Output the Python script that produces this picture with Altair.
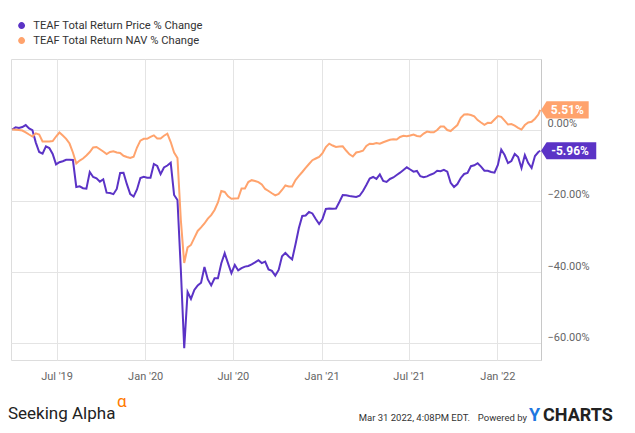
import altair as alt
import pandas as pd

dates = [d.strftime("%Y-%m-%d") for d in pd.date_range("2019-03-31", periods=157, freq="7D")] + ["2022-03-31"]

price = [
    0, 0.62, 0.42, 0.70, 1.26, 0.31, -0.20, -3.67, -6.31, -6.76,
    -4.71, -5.19, -6.84, -9.79, -9.17, -8.89, -8.50, -8.47, -8.56, -16.13,
    -15.96, -16.47, -16.61, -11.92, -13.32, -13.69, -14.64, -13.97, -17.73, -17.84,
    -18.15, -16.69, -12.20, -12.15, -15.34, -18.12, -18.82, -16.83, -13.60, -13.24,
    -13.52, -13.52, -9.68, -10.24, -12.54, -10.66, -10.10, -9.34, -18.37, -19.78,
    -39.41, -61.37, -45.58, -47.54, -45.02, -43.76, -43.00, -38.57, -42.08, -43.76,
    -41.74, -41.74, -37.53, -34.73, -37.59, -40.34, -38.01, -39.55, -38.91, -38.48,
    -38.29, -37.87, -37.31, -36.69, -37.50, -37.08, -39.27, -39.69, -41.01, -39.41,
    -35.60, -34.64, -35.62, -36.47, -32.23, -27.63, -24.26, -24.12, -23.14, -23.56,
    -25.10, -26.51, -25.10, -22.30, -22.16, -22.24, -22.16, -20.34, -18.37, -18.46,
    -18.65, -18.79, -18.93, -18.60, -17.25, -15.57, -13.74, -13.32, -13.88, -12.62,
    -14.45, -14.73, -13.88, -13.46, -12.76, -12.12, -11.36, -10.60, -11.22, -11.84,
    -11.64, -13.10, -13.38, -13.16, -12.68, -12.34, -11.58, -11.72, -11.30, -11.84,
    -14.95, -16.13, -15.29, -13.60, -12.48, -12.20, -10.29, -10.04, -9.45, -10.41,
    -11.56, -11.56, -11.92, -12.12, -9.93, -5.61, -7.15, -9.40, -8.84, -6.87,
    -7.71, -10.80, -7.15, -9.40, -10.80, -7.43, -6.31,
    -5.96,
]

nav = [
    0, -0.08, -0.14, -0.28, -0.79, -1.40, -1.96, -1.07, -1.40, -3.37,
    -3.39, -3.37, -3.23, -1.96, -0.84, -1.68, -2.61, -3.93, -6.45, -9.54,
    -8.70, -8.13, -7.29, -6.31, -5.05, -4.91, -5.53, -6.17, -6.87, -6.31,
    -6.09, -6.45, -6.59, -7.38, -7.71, -7.99, -7.66, -5.05, -3.11, -2.61,
    -2.61, -2.05, -1.63, -2.50, -2.52, -1.74, -1.18, -3.51, -6.45, -7.99,
    -25.39, -37.45, -33.10, -32.40, -30.43, -28.47, -27.49, -26.37, -25.02, -24.04,
    -22.58, -20.48, -17.25, -17.53, -18.74, -19.44, -19.35, -19.30, -16.55, -16.55,
    -14.73, -14.22, -14.45, -14.78, -15.43, -16.69, -17.25, -17.90, -18.51, -18.09,
    -16.97, -15.71, -15.99, -15.99, -14.17, -13.04, -11.92, -10.74, -9.68, -8.61,
    -8.13, -7.66, -6.65, -4.91, -3.96, -4.49, -4.91, -4.77, -4.71, -5.89,
    -6.96, -7.57, -6.45, -6.23, -5.95, -4.63, -3.98, -4.07, -3.79, -3.98,
    -3.56, -3.23, -2.89, -2.75, -2.81, -2.10, -1.77, -1.88, -1.68, -1.40,
    -1.82, -1.96, -1.12, -0.56, -0.79, -0.79, -0.14, 0.84, 0.84, -0.14,
    -0.42, 0.42, 1.26, 3.31, 4.21, 4.26, 4.07, 3.70, 2.66, 1.96,
    1.32, 1.88, 1.82, 2.81, 3.79, 3.56, 2.52, 1.40, 1.54, 1.07,
    0.48, 0.00, 1.26, 1.96, 2.16, 3.03, 4.21,
    5.51,
]

series_names = ["TEAF Total Return Price % Change", "TEAF Total Return NAV % Change"]
series_colors = ["#5b33c6", "#ffa36d"]
y_ticks = [-60, -40, -20, 0]
x_ticks = [(2019, 7), (2020, 1), (2020, 7), (2021, 1), (2021, 7), (2022, 1)]

FONT = "Roboto"

df = pd.DataFrame({
    "date": dates * 2,
    "value": price + nav,
    "series": [series_names[0]] * len(dates) + [series_names[1]] * len(dates),
})

x_enc = alt.X(
    "date:T",
    title=None,
    scale=alt.Scale(
        type="utc",
        domain=[alt.DateTime(year=2019, month=3, date=28, hours=12, utc=True),
                alt.DateTime(year=2022, month=4, date=1, hours=12, utc=True)],
    ),
    axis=alt.Axis(
        values=[alt.DateTime(year=y, month=m, date=1, utc=True) for y, m in x_ticks],
        labelExpr="utcFormat(datum.value, \"%b '%y\")",
        grid=True, gridColor="#e4e4e4", ticks=False, domain=False,
        labelFont=FONT, labelFontSize=11, labelColor="#666666", labelPadding=10,
    ),
)
y_enc = alt.Y(
    "value:Q",
    title=None,
    scale=alt.Scale(domain=[-64.7, 19.8], nice=False, zero=False),
    axis=alt.Axis(
        orient="right", values=y_ticks,
        labelExpr="format(datum.value, '.2f') + '%'",
        grid=True, gridColor="#e4e4e4", ticks=False, domain=True, domainColor="#c8c8c8",
        labelFont=FONT, labelFontSize=11, labelColor="#666666", labelPadding=6,
        labelBaseline="alphabetic", labelOffset=-3,
    ),
)

lines = alt.Chart(df).mark_line(strokeWidth=2).encode(
    x=x_enc,
    y=y_enc,
    color=alt.Color(
        "series:N",
        scale=alt.Scale(domain=series_names, range=series_colors),
        legend=alt.Legend(
            orient="none", legendX=5, legendY=-39, direction="vertical", title=None,
            symbolType="circle", symbolSize=12, symbolStrokeWidth=3.5,
            labelFont=FONT, labelFontSize=11.2, labelColor="#333333", labelLimit=0,
            labelOffset=6, rowPadding=-4, padding=0,
        ),
    ),
    order=alt.Order("date:T"),
)

last_price = pd.DataFrame({"date": [dates[-1]], "value": [price[-1]], "label": [f"{price[-1]:.2f}%"]})
last_nav = pd.DataFrame({"date": [dates[-1]], "value": [nav[-1]], "label": [f"{nav[-1]:.2f}%"]})

def badge(data, color, half_w, text_dx, path):
    shape = alt.Chart(data).mark_point(
        shape=path, size=(2 * half_w) ** 2, filled=True, fill=color, stroke=color,
        strokeWidth=0, opacity=1, xOffset=half_w + 0.8,
    ).encode(x=alt.X("date:T"), y=alt.Y("value:Q"))
    txt = alt.Chart(data).mark_text(
        color="white", font=FONT, fontSize=12, fontWeight="bold", align="center",
        baseline="middle", xOffset=text_dx, dy=0.5,
    ).encode(x=alt.X("date:T"), y=alt.Y("value:Q"), text="label:N")
    return shape + txt

nav_badge = badge(last_nav, series_colors[1], 23.8, 27.0,
                  "M-1,0 L-0.77,-0.36 L1,-0.36 L1,0.36 L-0.77,0.36 Z")
price_badge = badge(last_price, series_colors[0], 27.6, 29.8,
                    "M-1,0 L-0.8,-0.31 L1,-0.31 L1,0.31 L-0.8,0.31 Z")

one = pd.DataFrame({"t": [""]})

def footer(text, x, y, size, color, weight="normal", align="left", font=FONT):
    return alt.Chart(one).mark_text(
        text=text, align=align, baseline="alphabetic", font=font,
        fontSize=size, fontWeight=weight, color=color,
    ).encode(x=alt.value(x), y=alt.value(y))

footers = (
    footer("Seeking Alpha", -3, 360, 17, "#222222")
    + footer("α", 106, 348, 17, "#ff7a00")
    + footer("Mar 31 2022, 4:08PM EDT.", 459, 362, 9.5, "#333333", align="right")
    + footer("Powered by", 516, 362, 9.5, "#333333", align="right")
    + footer("Y", 518, 362, 18, "#1f78e0", weight="bold")
    + footer("CHARTS", 532, 362, 18, "#222222", weight="bold")
)

chart = alt.layer(lines, nav_badge, price_badge, footers).resolve_scale(
    color="independent"
).properties(
    width=530, height=301,
    padding={"left": 3, "top": 51, "right": 86, "bottom": 65},
    autosize=alt.AutoSizeParams(type="none"),
    background="white",
).configure_view(stroke="#dddddd", strokeWidth=1)

chart.save("out.html", embed_options={"renderer": "svg", "actions": False})
